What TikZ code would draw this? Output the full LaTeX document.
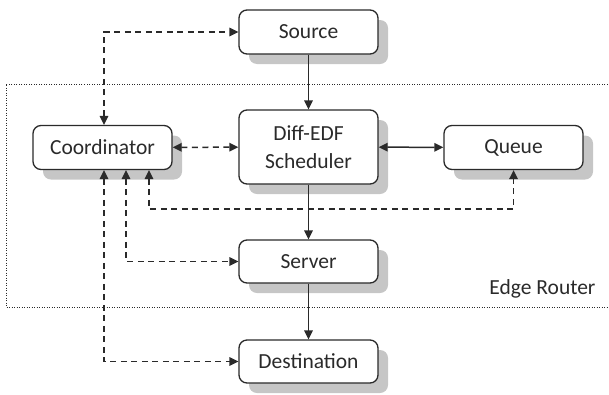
\documentclass[tikz,border=0pt]{standalone}
\usepackage{fontspec}
\setmainfont{Carlito}
\usetikzlibrary{arrows.meta,shadows}
\definecolor{edge}{HTML}{2A2A2A}
\definecolor{shade}{HTML}{C6C6C6}
\begin{document}
\begin{tikzpicture}[x=1pt,y=-1pt,
  box/.style={draw=edge, line width=1.3pt, rounded corners=8pt, fill=white,
    minimum width=139pt, align=center, text=edge,
    font=\fontsize{21.5}{28}\selectfont,
    drop shadow={shadow xshift=10pt, shadow yshift=-10pt, fill=shade, opacity=1}},
  flow/.style={draw=edge, line width=1.5pt, -{Triangle[length=9pt,width=8.5pt]}},
  both/.style={draw=edge, line width=1.5pt, {Triangle[length=9pt,width=8.5pt]}-{Triangle[length=9pt,width=8.5pt]}},
  ctrl/.style={both, dash pattern=on 6pt off 4.5pt},
  region/.style={draw=edge, line width=0.9pt, dash pattern=on 1pt off 1.5pt}]
\useasboundingbox (0,0) rectangle (609,394);

% Edge router boundary (open on the right)
\draw[region] (640,84) -- (6,84) -- (6,307) -- (640,307);
\node[anchor=east, text=edge, font=\fontsize{21.5}{26}\selectfont] (er) at (599,289) {Edge Router};

% Boxes
\node[box, minimum height=44pt] (src) at (308.5,32) {Source};
\node[box, minimum height=74pt] (sch) at (308.5,147) {Diff-EDF\\Scheduler};
\node[box, minimum height=44pt] (crd) at (102.5,147.5) {Coordinator};
\node[box, minimum height=44pt] (que) at (513.5,147.5) {Queue};
\node[box, minimum height=43pt] (srv) at (308.5,261.5) {Server};
\node[box, minimum height=43pt] (dst) at (308.5,361.5) {Destination};

% Data path
\draw[flow] (src) -- (sch);
\draw[flow] (sch) -- (srv);
\draw[flow] (srv) -- (dst);
\draw[both] (sch) -- (que);

% Control signalling from the coordinator
\coordinate (qlane) at (0,209);
\draw[ctrl] ([xshift=1.5pt]crd.north) |- (src.west);
\draw[ctrl] (crd) -- (sch);
\draw[ctrl] ([xshift=46.5pt]crd.south) -- ([xshift=46.5pt]crd.south |- qlane) -| (que.south);
\draw[ctrl] ([xshift=23.5pt]crd.south) |- (srv.west);
\draw[ctrl] ([xshift=1.5pt]crd.south) |- (dst.west);
\end{tikzpicture}
\end{document}
